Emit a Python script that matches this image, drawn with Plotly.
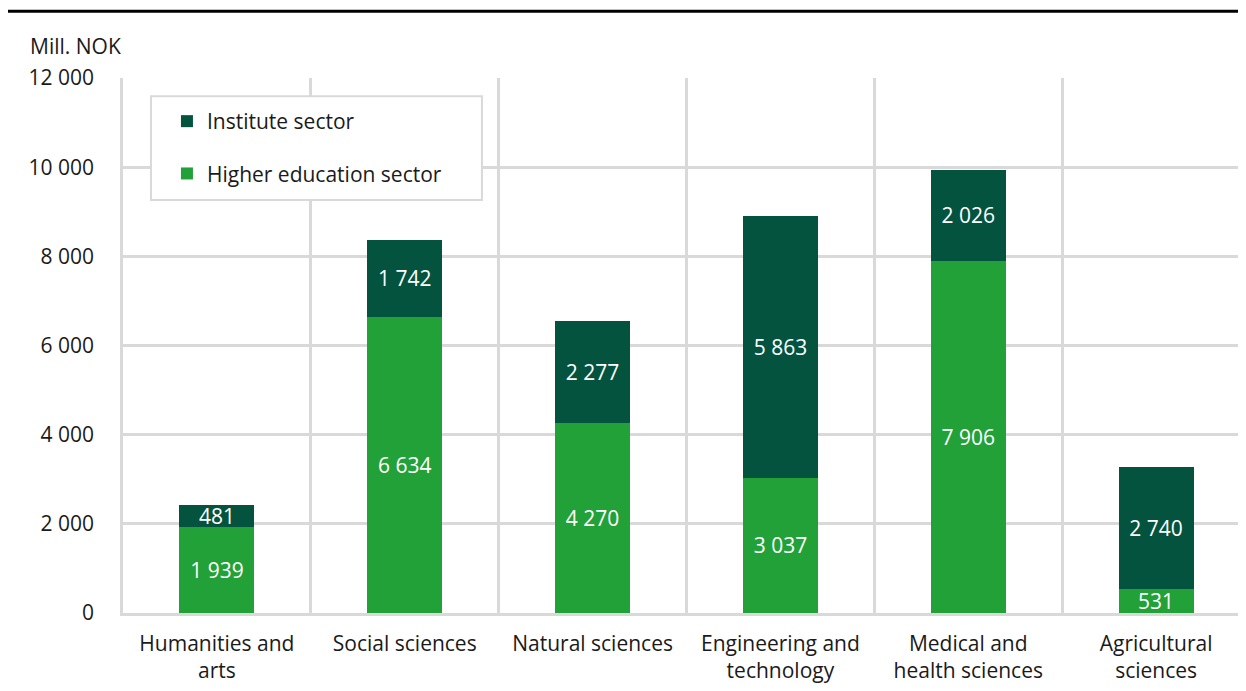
import plotly.graph_objects as go

categories = ["Humanities and<br>arts", "Social sciences", "Natural sciences",
              "Engineering and<br>technology", "Medical and<br>health sciences",
              "Agricultural<br>sciences"]
higher_education = [1939, 6634, 4270, 3037, 7906, 531]
institute = [481, 1742, 2277, 5863, 2026, 2740]

dark_green = "#03533f"
light_green = "#22a139"
grid = "#d9d9d9"
font = "Open Sans"
fs = 21

fig = go.Figure()

fig.add_trace(go.Bar(
    x=categories, y=higher_education,
    name="Higher education sector",
    marker_color=light_green, marker_line_width=0,
    texttemplate="%{y:,}", textposition="inside", insidetextanchor="middle",
    constraintext="none",
    textfont=dict(color="white", size=fs, family=font),
    legendgroup="g1", legendrank=2))
fig.add_trace(go.Bar(
    x=categories, y=institute,
    name="Institute sector",
    marker_color=dark_green, marker_line_width=0,
    texttemplate="%{y:,}", textposition="inside", insidetextanchor="middle",
    constraintext="none",
    textfont=dict(color="white", size=fs, family=font),
    legendgroup="g2", legendrank=1))

# hidden numeric axis used only for the vertical grid between categories
fig.add_trace(go.Scatter(x=[-0.5, 5.5], y=[0, 0], xaxis="x2", mode="lines",
                         line_width=0, showlegend=False, hoverinfo="skip"))

fig.update_layout(
    width=1246, height=691,
    barmode="stack", bargap=0.6,
    separators=". ",
    plot_bgcolor="white", paper_bgcolor="white",
    font=dict(family=font, size=fs, color="#1a1a1a"),
    margin=dict(l=115, r=4, t=70, b=86),
    xaxis=dict(showgrid=False, showline=True, linecolor=grid, linewidth=2.5,
               ticks="", ticklabelstandoff=10, tickfont=dict(size=fs)),
    xaxis2=dict(overlaying="x", range=[-0.5, 5.5], tick0=-0.5, dtick=1,
                showgrid=True, gridcolor=grid, gridwidth=2.5,
                showticklabels=False, zeroline=False),
    yaxis=dict(range=[0, 12000], dtick=2000, tickformat=",d",
               showgrid=True, gridcolor=grid, gridwidth=2.5,
               zeroline=False, showline=True, linecolor=grid, linewidth=2.5,
               ticks="", ticklabelstandoff=22, tickfont=dict(size=fs)),
    legend=dict(x=0.039, y=0.957, xanchor="left", yanchor="top",
                bgcolor="rgba(0,0,0,0)", borderwidth=0,
                traceorder="grouped", tracegroupgap=22,
                font=dict(size=fs)),
    shapes=[dict(type="line", xref="paper", yref="paper",
                 x0=-0.105, x1=1.0, y0=1.125, y1=1.125,
                 line=dict(color="black", width=3)),
            # legend frame
            dict(type="rect", xref="paper", yref="paper", layer="above",
                 x0=0.0248, x1=0.3185, y0=0.772, y1=0.966,
                 fillcolor="white", line=dict(color=grid, width=2))],
    annotations=[dict(text="Mill. NOK", xref="paper", yref="paper",
                      x=-0.0845, y=1.06, xanchor="left", yanchor="middle",
                      showarrow=False, font=dict(size=fs))],
)

fig.write_html("out.html")
